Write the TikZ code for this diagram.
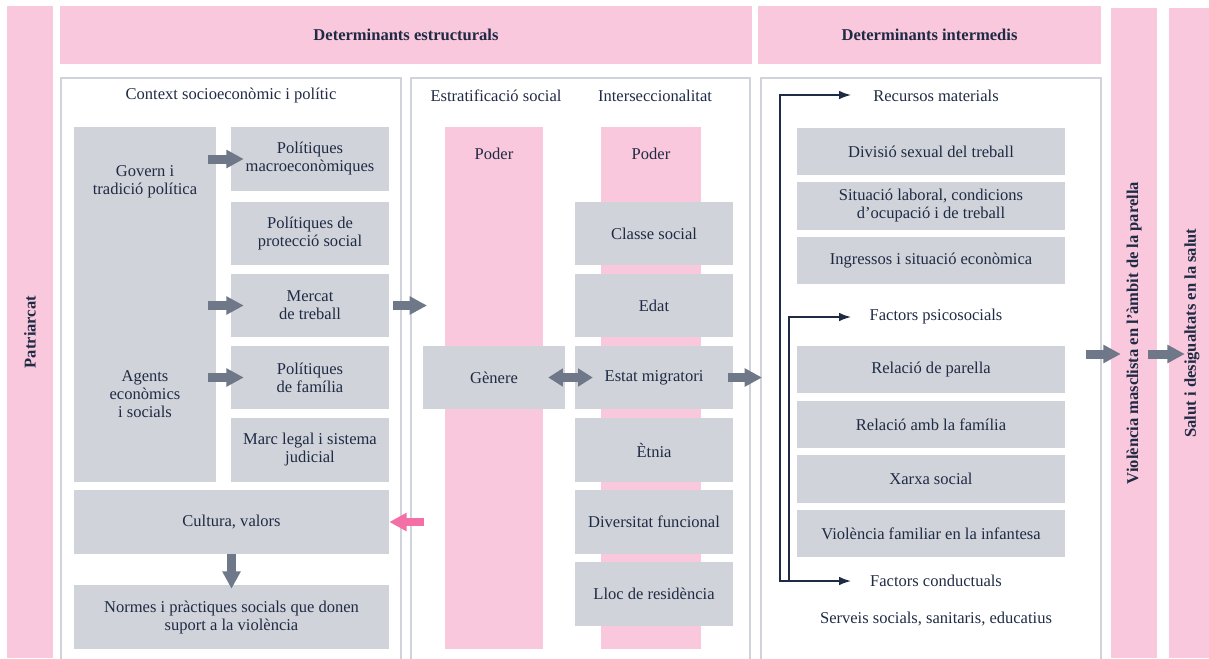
\documentclass[tikz,border=0pt]{standalone}
\usepackage{fontspec}
\setmainfont{Liberation Serif}
\usetikzlibrary{arrows.meta}

\definecolor{rosa}{RGB}{249,200,220}
\definecolor{gris}{RGB}{208,211,217}
\definecolor{grisfosc}{RGB}{110,120,136}
\definecolor{tinta}{RGB}{31,42,68}
\definecolor{rosafort}{RGB}{243,111,166}

\newcommand{\mida}{\fontsize{12.4}{13.5}\selectfont}

\tikzset{
  mides/.style 2 args={minimum width=#1*0.75pt, minimum height=#2*0.75pt},
  caixa/.style={fill=gris, inner sep=0pt},
  barra/.style={fill=rosa, inner sep=0pt, font=\mida\bfseries},
  marc/.style={draw=gris, line width=1.5pt, inner sep=0pt},
  fletxa/.style={draw=grisfosc, line width=6.75pt, -{Triangle[length=13pt,width=13pt]}},
  fletxarosa/.style={fletxa, draw=rosafort, line width=6pt},
  fletxadoble/.style={fletxa, {Triangle[length=11pt,width=13pt]}-{Triangle[length=11pt,width=13pt]}},
  claudator/.style={draw=tinta, line width=1.1pt, -{Latex[length=9pt,width=6.5pt]}},
}

\begin{document}
\begin{tikzpicture}[x=0.75pt,y=0.75pt,yscale=-1,xscale=1,
  every node/.append style={text=tinta, font=\mida, align=center}]
\useasboundingbox (0,0) rectangle (1209,658);

% pink bands
\node[barra, mides={46}{652}] (patriarcat) at (30,332) {};
\node[barra, mides={692}{58}] (estructurals) at (406,35) {Determinants estructurals};
\node[barra, mides={343}{58}] (intermedis) at (929.5,35) {Determinants intermedis};
\node[barra, mides={46}{650}] (violencia) at (1134,333) {};
\node[barra, mides={46}{650}] (salut) at (1192,333) {};
\node[font=\mida\bfseries, rotate=90] (tpatriarcat) at (patriarcat.center) {Patriarcat};
\node[font=\mida\bfseries, rotate=90] (tviolencia) at (violencia.center) {Violència masclista en l’àmbit de la parella};
\node[font=\mida\bfseries, rotate=90] (tsalut) at (salut.center) {Salut i desigualtats en la salut};

% frames
\node[marc, mides={340}{592}] (context) at (231,374) {};
\node[marc, mides={339}{592}] (estratificacio) at (580.5,374) {};
\node[marc, mides={340}{592}] (intermedi) at (931,374) {};

% context socioeconomic
\node (tcontext) at (231,96) {Context socioeconòmic i polític};
\node[caixa, mides={142}{355}] (govern) at (145,304.5) {};
\node (tgovern) at (145,182) {Govern i\\tradició política};
\node (tagents) at (145,394) {Agents\\econòmics\\i socials};
\node[caixa, mides={158}{64}] (macro) at (310,159) {Polítiques\\macroeconòmiques};
\node[caixa, mides={158}{63}] (proteccio) at (310,233.5) {Polítiques de\\protecció social};
\node[caixa, mides={158}{63}] (mercat) at (310,305.5) {Mercat\\de treball};
\node[caixa, mides={158}{63}] (familia) at (310,377.5) {Polítiques\\de família};
\node[caixa, mides={158}{64}] (marclegal) at (310,450) {Marc legal i sistema\\judicial};
\node[caixa, mides={315}{64}] (cultura) at (231.5,522) {Cultura, valors};
\node[caixa, mides={315}{64}] (normes) at (231.5,617) {Normes i pràctiques socials que donen\\suport a la violència};

% estratificacio / interseccionalitat
\node (testrat) at (496,96) {Estratificació social};
\node (tinters) at (655,96) {Interseccionalitat};
\node[barra, mides={98}{522}] (poder1) at (494,388) {};
\node[barra, mides={100}{522}] (poder2) at (651,388) {};
\node (tpoder1) at (494,154) {Poder};
\node (tpoder2) at (651,154) {Poder};
\node[caixa, mides={142}{63}] (genere) at (494,377.5) {Gènere};
\node[caixa, mides={158}{63}] (classe) at (654,233.5) {Classe social};
\node[caixa, mides={158}{63}] (edat) at (654,305.5) {Edat};
\node[caixa, mides={158}{63}] (estat) at (654,377.5) {Estat migratori};
\node[caixa, mides={158}{64}] (etnia) at (654,450) {Ètnia};
\node[caixa, mides={158}{64}] (diversitat) at (654,522) {Diversitat funcional};
\node[caixa, mides={158}{64}] (lloc) at (654,594) {Lloc de residència};

% determinants intermedis
\node (trecursos) at (936,96) {Recursos materials};
\node[caixa, mides={268}{47}] (divisio) at (931,151.5) {Divisió sexual del treball};
\node[caixa, mides={268}{48}] (laboral) at (931,206) {Situació laboral, condicions\\d’ocupació i de treball};
\node[caixa, mides={268}{47}] (ingressos) at (931,260.5) {Ingressos i situació econòmica};
\node (tpsico) at (936,317) {Factors psicosocials};
\node[caixa, mides={268}{47}] (parella) at (931,369.5) {Relació de parella};
\node[caixa, mides={268}{47}] (relfamilia) at (931,424.5) {Relació amb la família};
\node[caixa, mides={268}{48}] (xarxa) at (931,479) {Xarxa social};
\node[caixa, mides={268}{47}] (violfam) at (931,533.5) {Violència familiar en la infantesa};
\node (tconduct) at (936,581) {Factors conductuals};
\node (tserveis) at (936,619) {Serveis socials, sanitaris, educatius};

% brackets
\coordinate (cRecursos) at (851,95);
\coordinate (cExterior) at (780,581);
\coordinate (cConductuals) at (851,581);
\coordinate (cInterior) at (789,582);
\coordinate (cPsico) at (851,317);
\draw[claudator, {Latex[length=9pt,width=6.5pt]}-{Latex[length=9pt,width=6.5pt]}] (cRecursos) -| (cExterior) -- (cConductuals);
\draw[claudator] (cInterior) |- (cPsico);

% block arrows
\coordinate (nivell) at (0,354);
\draw[fletxa, shorten <=-6pt, shorten >=-9.75pt] (govern.east |- macro.west) -- (macro.west);
\draw[fletxa, shorten <=-6pt, shorten >=-9.75pt] (govern.east |- mercat.west) -- (mercat.west);
\draw[fletxa, shorten <=-6pt, shorten >=-9.75pt] (govern.east |- familia.west) -- (familia.west);
\draw[fletxa, shorten <=3pt, shorten >=-12.75pt] (mercat.east) -- (mercat.east -| estratificacio.west);
\draw[fletxa, shorten >=-3pt] (cultura.south) -- (normes.north);
\draw[fletxarosa, shorten <=-10.5pt] (cultura.east -| estratificacio.west) -- (cultura.east);
\draw[fletxadoble, shorten <=-12.75pt, shorten >=-13.5pt] (genere.east) -- (estat.west);
\draw[fletxa, shorten <=-3.75pt, shorten >=-1.5pt] (estat.east) -- (estat.east -| intermedi.west);
\draw[fletxa, shorten <=-12pt, shorten >=-7.5pt] (intermedi.east |- nivell) -- (violencia.west |- nivell);
\draw[fletxa, shorten <=-6.75pt, shorten >=-12pt] (violencia.east |- nivell) -- (salut.west |- nivell);

\end{tikzpicture}
\end{document}
